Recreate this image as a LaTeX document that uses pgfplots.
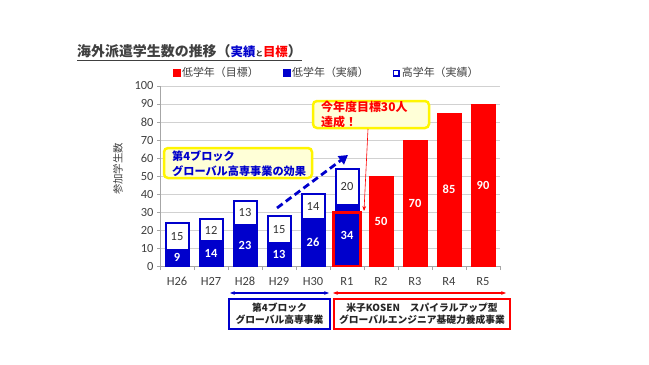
\documentclass[border=0pt]{standalone}
\usepackage{fontspec}
\setmainfont{Carlito}
\newfontfamily\jp{Noto Sans CJK JP}
\usepackage{pgfplots}
\pgfplotsset{compat=1.18}
\usepackage{pgfplotstable}
\usetikzlibrary{arrows.meta}
\definecolor{barblue}{RGB}{0,0,204}
\definecolor{barred}{RGB}{255,0,0}
\definecolor{boxyellow}{RGB}{255,245,0}
\definecolor{boxfill}{RGB}{255,255,215}
\definecolor{txtgray}{RGB}{64,64,64}

\pgfplotstableread{
x low high
0 9 15
1 14 12
2 23 13
3 13 15
4 26 14
5 34 20
}\actual
\pgfplotstableread{
x target
6 50
7 70
8 85
9 90
}\target

\begin{document}
\begin{tikzpicture}
\useasboundingbox (0,0) rectangle (649bp,-365bp);
\begin{axis}[
  at={(160bp,-266bp)}, anchor=south west,
  scale only axis, width=340bp, height=180bp,
  xmin=-0.5, xmax=9.5, ymin=0, ymax=100,
  xtick={0,...,9},
  xticklabels={H26,H27,H28,H29,H30,R1,R2,R3,R4,R5},
  minor xtick={-0.5,0.5,...,9.5},
  ytick={0,10,...,100},
  axis x line*=bottom, axis y line*=left,
  axis line style={black!35, line width=0.8pt},
  ymajorgrids, grid style={black!18, line width=0.8pt},
  major x tick style={draw=none},
  minor x tick style={black!35},
  major y tick style={black!35},
  tick align=outside,
  major tick length=3bp, minor tick length=4bp,
  /pgf/number format/assume math mode=true,
  tick label style={font=\fontsize{12.5}{14}\selectfont, text=txtgray},
  xticklabel style={yshift=-4.5bp},
  ylabel={参加学生数},
  ylabel style={at={(axis description cs:-0.124,0.54)}, anchor=center, font=\jp\fontsize{10.5}{12}\selectfont, text=txtgray},
  legend style={at={(0.49,1.072)}, anchor=center, draw=none, fill=none,
    legend columns=3, font=\jp\fontsize{11}{13}\selectfont, text=txtgray,
    /tikz/every even column/.append style={column sep=22bp}},
  legend cell align=left,
]
\addplot[ybar, bar width=23bp, bar shift=0pt, draw=barblue, line width=2bp, fill=white, forget plot]
  table[x=x, y expr=\thisrow{low}+\thisrow{high}] {\actual};
\addplot[ybar, bar width=23bp, bar shift=0pt, draw=barblue, line width=2bp, fill=barblue, forget plot]
  table[x=x, y=low] {\actual};
\addplot[ybar, bar width=24bp, bar shift=0pt, draw=barred, fill=barred, forget plot]
  table[x=x, y=target] {\target};
\addplot[ybar, bar width=27bp, bar shift=0pt, draw=barred, line width=3bp, fill=none, forget plot]
  coordinates {(5,30)};
% data labels
\addplot[draw=none, mark=none, forget plot, nodes near coords, point meta=explicit,
  nodes near coords style={anchor=center, text=white, font=\bfseries\fontsize{12.5}{14}\selectfont}]
  table[x=x, y expr=\thisrow{low}/2, meta=low] {\actual};
\addplot[draw=none, mark=none, forget plot, nodes near coords, point meta=explicit,
  nodes near coords style={anchor=center, text=black!80, font=\fontsize{12.5}{14}\selectfont}]
  table[x=x, y expr=\thisrow{low}+\thisrow{high}/2, meta=high] {\actual};
\addplot[draw=none, mark=none, forget plot, nodes near coords, point meta=explicit,
  nodes near coords style={anchor=center, text=white, font=\bfseries\fontsize{12.5}{14}\selectfont}]
  table[x=x, y expr=\thisrow{target}/2, meta=target] {\target};
% legend
\addlegendimage{legend image code/.code={\fill[barred] (0bp,-3.5bp) rectangle (7bp,3.5bp);}}
\addlegendentry{低学年（目標）}
\addlegendimage{legend image code/.code={\fill[barblue] (0bp,-3.5bp) rectangle (7bp,3.5bp);}}
\addlegendentry{低学年（実績）}
\addlegendimage{legend image code/.code={\draw[barblue, line width=1.6bp, fill=white] (0.8bp,-2.7bp) rectangle (6.2bp,2.7bp);}}
\addlegendentry{高学年（実績）}
\end{axis}

\begin{scope}[x=1bp, y=-1bp]
% title
\node[anchor=base west, inner sep=0, text=txtgray, font=\jp\bfseries\fontsize{14}{16}\selectfont]
  at (77,56.5) {海外派遣学生数の推移（{\color{barblue}\fontsize{12.5}{14}\selectfont 実績}{\fontsize{7.5}{8}\selectfont と}{\color{barred}\fontsize{12.5}{14}\selectfont 目標}）};
\draw[txtgray, line width=1bp] (77,60) -- (302,60);
% annotation 1
\draw[boxyellow, line width=2.5bp, fill=boxfill, rounded corners=4bp] (164,148) rectangle (312,178);
\node[anchor=west, align=left, text=barblue, font=\jp\bfseries\fontsize{11.2}{15}\selectfont, inner sep=0]
  at (172,163.5) {第4ブロック\\グローバル高専事業の効果};
\draw[barblue, line width=2.8bp, dash pattern=on 7bp off 4bp, -{Triangle[length=9bp,width=10bp]}] (277,208) -- (348,155);
% annotation 2
\draw[boxyellow, line width=2.5bp, fill=boxfill, rounded corners=4bp] (313,101) rectangle (429,128);
\node[anchor=west, align=left, text=barred, font=\jp\bfseries\fontsize{12}{15}\selectfont, inner sep=0]
  at (321,114.5) {今年度目標30人\\達成！};
\draw[barred, line width=0.6bp, -{Stealth[length=5bp]}] (368,129) -- (364,211);
% bottom
\draw[barblue, line width=1.2bp, {Stealth[length=5bp]}-{Stealth[length=5bp]}] (230,293) -- (329,293);
\draw[barred, line width=1.2bp, {Stealth[length=5bp]}-{Stealth[length=5bp]}] (333,293) -- (506,293);
\draw[barblue, line width=2.2bp] (229,299) rectangle (330,329);
\node[align=center, font=\jp\bfseries\fontsize{9.8}{12}\selectfont, text=black!85]
  at (279.5,314) {第4ブロック\\グローバル高専事業};
\draw[barred, line width=2.2bp] (334,299) rectangle (510,329);
\node[align=center, font=\jp\bfseries\fontsize{9.8}{12}\selectfont, text=black!85]
  at (422,314) {米子KOSEN\hspace{1em}スパイラルアップ型\\グローバルエンジニア基礎力養成事業};
\end{scope}
\end{tikzpicture}
\end{document}
